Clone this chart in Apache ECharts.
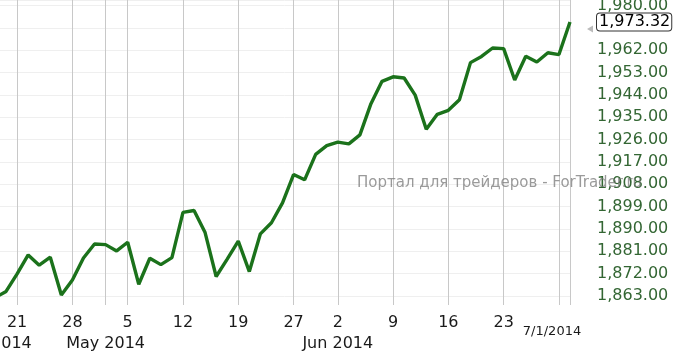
<!DOCTYPE html>
<html><head><meta charset="utf-8">
<script src="https://cdn.jsdelivr.net/npm/echarts@6/dist/echarts.min.js"></script>
<style>html,body{margin:0;padding:0;background:#fff}#c{width:673px;height:351px}</style>
</head><body><div id="c"></div>
<script>
// Trading days (2014)
const dates = ['4/16','4/17','4/21','4/22','4/23','4/24','4/25','4/28','4/29','4/30',
  '5/1','5/2','5/5','5/6','5/7','5/8','5/9','5/12','5/13','5/14','5/15','5/16','5/19','5/20','5/21','5/22','5/23','5/27','5/28','5/29','5/30',
  '6/2','6/3','6/4','6/5','6/6','6/9','6/10','6/11','6/12','6/13','6/16','6/17','6/18','6/19','6/20','6/23','6/24','6/25','6/26','6/27','6/30','7/1'];
// Closing values
const closes = [1862.31,1864.85,1871.89,1879.55,1875.39,1878.61,1863.40,1869.43,1878.33,1883.95,
  1883.68,1881.14,1884.66,1867.72,1878.21,1875.63,1878.48,1896.65,1897.45,1888.53,1870.85,1877.86,1885.08,1872.83,1888.03,1892.49,1900.53,1911.91,1909.78,1920.03,1923.57,
  1924.97,1924.24,1927.88,1940.46,1949.44,1951.27,1950.79,1943.89,1930.11,1936.16,1937.78,1941.99,1956.98,1959.48,1962.87,1962.61,1949.98,1959.53,1957.22,1960.96,1960.23,1973.32];
// Weekly tick dates (labels show the day number)
const weekTicks = ['4/21','4/28','5/5','5/12','5/19','5/27','6/2','6/9','6/16','6/23','6/30'];
const hiddenWeekLabels = ['6/30'];
// Month boundary grid lines
const monthTicks = ['5/1','6/2','7/1'];
// Month labels
const monthLabelDates = ['4/16','5/1','6/2'];
const monthLabelTexts = ['Apr 2014','May 2014','Jun 2014'];
const lastDateLabel = '7/1/2014';
// Y axis ticks
const yTickMin = 1863, yTickMax = 1980, yTickStep = 9;
const yViewMax = 1982.2;

const lastIdx = dates.length - 1;
const lastVal = closes[lastIdx];
const FONT = 'DejaVu Sans';
const fmt = v => v.toLocaleString('en-US', {minimumFractionDigits: 2, maximumFractionDigits: 2});
const isGridDate = i => weekTicks.includes(dates[i]) || monthTicks.includes(dates[i]);

const chart = echarts.init(document.getElementById('c'), null, {renderer: 'canvas'});
chart.setOption({
  animation: false,
  backgroundColor: '#fff',
  grid: {left: -5, right: 103, top: 0, bottom: 55, containLabel: false, outerBoundsMode: 'none'},
  xAxis: [{
    type: 'category', data: dates, boundaryGap: false, position: 'bottom',
    axisLine: {show: false},
    axisTick: {show: true, interval: isGridDate, length: 9, lineStyle: {color: '#c8c8c8', width: 1}},
    splitLine: {show: true, interval: isGridDate, lineStyle: {color: '#c8c8c8', width: 1}},
    axisLabel: {
      interval: i => (weekTicks.includes(dates[i]) && !hiddenWeekLabels.includes(dates[i])) || i === lastIdx,
      formatter: (v, i) => i === lastIdx ? '{s|' + lastDateLabel + '}' : v.split('/')[1],
      margin: 19, fontSize: 16, color: '#1a1a1a', fontFamily: FONT,
      rich: {s: {fontSize: 13, fontFamily: FONT, color: '#1a1a1a', padding: [10, 36, 0, 0]}}
    }
  }, {
    type: 'category', data: dates, boundaryGap: false, position: 'bottom', offset: 21,
    axisLine: {show: false}, axisTick: {show: false}, splitLine: {show: false},
    axisLabel: {
      interval: i => monthLabelDates.includes(dates[i]),
      formatter: v => { const k = monthLabelDates.indexOf(v); return k >= 0 ? monthLabelTexts[k] : ''; },
      margin: 19, fontSize: 16, color: '#1a1a1a', fontFamily: FONT
    }
  }],
  yAxis: {
    type: 'value', position: 'right', min: yTickMin, max: yViewMax, interval: yTickStep,
    axisLine: {show: false}, axisTick: {show: false},
    splitLine: {show: true, lineStyle: {color: '#efefef', width: 1}},
    axisLabel: {
      margin: 27, fontSize: 16, color: '#336633', fontFamily: FONT,
      formatter: v => {
        const k = (v - yTickMin) / yTickStep;
        if (Math.abs(k - Math.round(k)) > 1e-6 || v < yTickMin - 1e-6 || v > yTickMax + 1e-6) return '';
        if (Math.abs(v - lastVal) < 5) return '';
        return fmt(v);
      }
    }
  },
  series: [{
    type: 'line', data: closes, xAxisIndex: 0, showSymbol: false, symbol: 'none',
    lineStyle: {color: '#1b721b', width: 3.4}, z: 3,
    markLine: {
      silent: true, symbol: 'none', animation: false,
      lineStyle: {color: 'rgba(0,0,0,0)', width: 1},
      data: [{yAxis: lastVal}],
      label: {show: true, position: 'end', distance: 27, formatter: () => fmt(lastVal),
        color: '#000', fontSize: 16, fontFamily: FONT, backgroundColor: '#fff',
        borderColor: '#333', borderWidth: 1, borderRadius: 3, padding: [1, 1, 0, 2]}
    },
    markPoint: {
      silent: true, animation: false,
      data: [{coord: [dates[lastIdx], lastVal], symbol: 'triangle', symbolSize: [7, 6], symbolRotate: 90,
        symbolOffset: [20, 7], itemStyle: {color: '#bbbbbb'}, label: {show: false}}]
    }
  }],
  graphic: [{
    type: 'text', left: 357, top: 176, z: 100, silent: true,
    style: {text: 'Портал для трейдеров - ForTrader.ru', fill: 'rgba(120,120,120,0.75)', font: '15px "DejaVu Sans"'}
  }]
});
</script></body></html>
